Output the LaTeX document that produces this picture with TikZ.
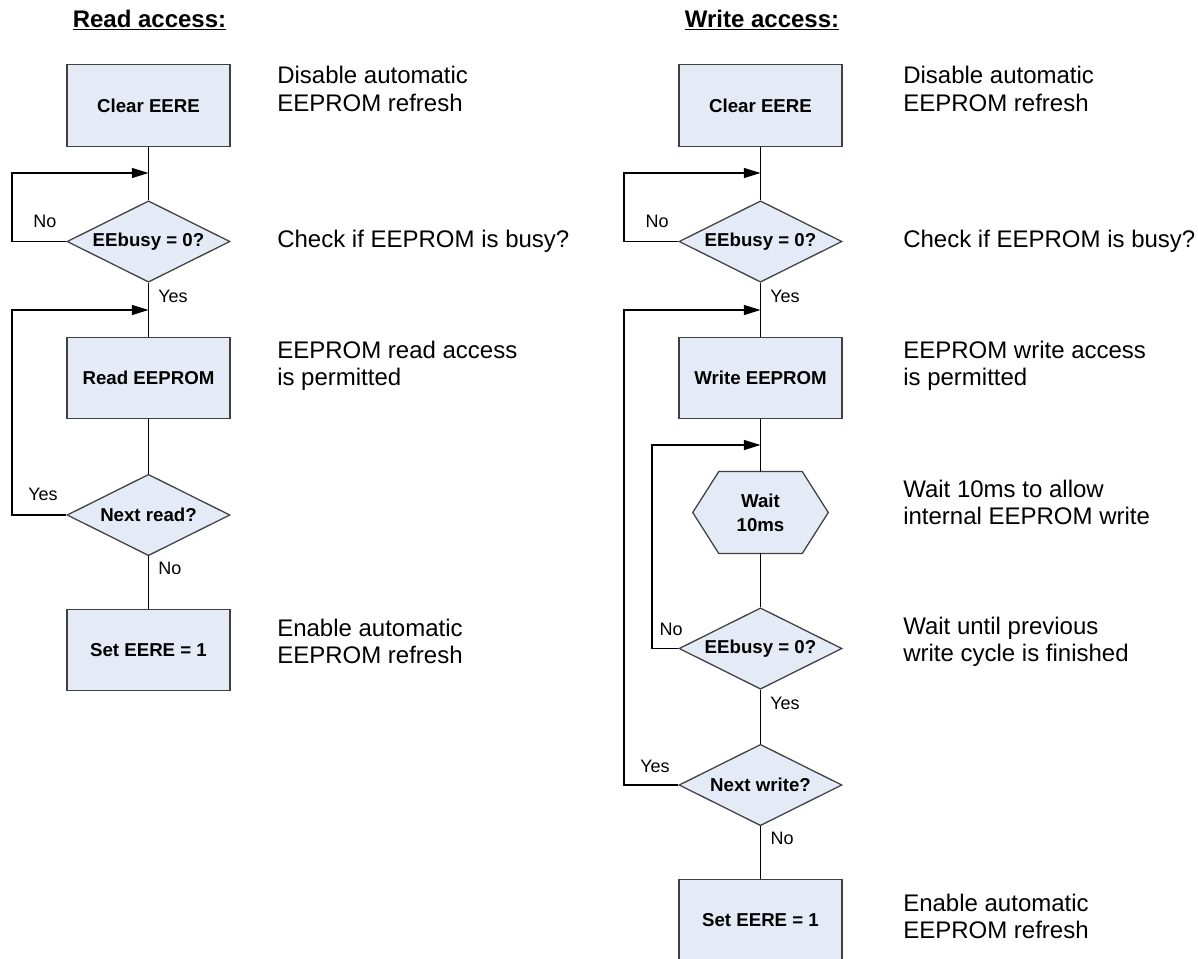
\documentclass[tikz,border=0pt]{standalone}
\usepackage{fontspec}
\setmainfont{Liberation Sans}
\usetikzlibrary{shapes.geometric,arrows.meta,backgrounds,calc}
\definecolor{boxfill}{HTML}{E5EBF6}
\definecolor{boxline}{HTML}{404040}
\tikzset{
  x=0.75pt, y=-0.75pt,
  flowline/.style={line width=0.95pt, black},
  arrowline/.style={flowline, -{Triangle[length=12.5pt,width=7.5pt]}},
  procbox/.style={rectangle, draw=boxline, fill=boxfill, line width=0.95pt,
    minimum width=122.25pt, minimum height=61pt, inner sep=0pt,
    font=\fontsize{14}{17}\selectfont\bfseries, align=center},
  decbox/.style={diamond, draw=boxline, fill=boxfill, line width=0.95pt,
    minimum width=122.25pt, minimum height=61pt, inner sep=0pt, shape aspect=2,
    font=\fontsize{14}{17}\selectfont\bfseries, align=center},
  hexbox/.style={rectangle, draw=none, minimum width=62.25pt, minimum height=61pt,
    inner sep=0pt, font=\fontsize{14}{18}\selectfont\bfseries, align=center},
  lbl/.style={font=\fontsize{13.5}{16}\selectfont, inner sep=0pt},
  note/.style={anchor=west, inner sep=0pt, align=left,
    font=\fontsize{18}{20.5}\selectfont},
  ttl/.style={font=\fontsize{18}{21}\selectfont\bfseries, inner sep=0pt}
}
\begin{document}
\begin{tikzpicture}
\useasboundingbox (0,0) rectangle (1198,958);

% ---------------- Read access ----------------
\node[ttl] (t1) at (149.5,20) {\underline{Read access:}};
\node[procbox] (c1) at (148.5,105.5) {Clear EERE};
\coordinate (a1) at (148.5,173);
\node[decbox] (d1) at (148.5,241.5) {EEbusy = 0?};
\coordinate (a2) at (148.5,310);
\node[procbox] (r1) at (148.5,378) {Read EEPROM};
\node[decbox] (d2) at (148.5,515) {Next read?};
\node[procbox] (s1) at (148.5,650) {Set EERE = 1};

\draw[flowline] (c1.south) -- (d1.north);
\draw[flowline] (d1.south) -- (r1.north);
\draw[flowline] (r1.south) -- (d2.north);
\draw[flowline] (d2.south) -- (s1.north);
\draw[arrowline] (d1.west) -- (12,241.5) |- (a1);
\draw[arrowline] (d2.west) -- (12,515) |- (a2);

\node[lbl] (l1) at (45,221) {No};
\node[lbl] (l2) at (173,296) {Yes};
\node[lbl] (l3) at (43,494) {Yes};
\node[lbl] (l4) at (170,568) {No};

\node[note] (n1) at (277,89) {Disable automatic\\EEPROM refresh};
\node[note] (n2) at (277,241) {Check if EEPROM is busy?};
\node[note] (n3) at (277,365.5) {EEPROM read access\\is permitted};
\node[note] (n4) at (277,641.5) {Enable automatic\\EEPROM refresh};

% ---------------- Write access ----------------
\node[ttl] (t2) at (762,20) {\underline{Write access:}};
\node[procbox] (c2) at (760.5,105.5) {Clear EERE};
\coordinate (b1) at (760.5,173);
\node[decbox] (e1) at (760.5,241.5) {EEbusy = 0?};
\coordinate (b2) at (760.5,310);
\node[procbox] (w1) at (760.5,378) {Write EEPROM};
\coordinate (b3) at (760.5,445);
\node[hexbox] (h1) at (760.5,512.5) {Wait\\10ms};
\begin{scope}[on background layer]
\draw[draw=boxline, fill=boxfill, line width=0.95pt]
  (h1.north west) -- (h1.north east) -- ($(h1.east)+(26,0)$) --
  (h1.south east) -- (h1.south west) -- ($(h1.west)+(-26,0)$) -- cycle;
\end{scope}
\node[decbox] (e2) at (760.5,648.5) {EEbusy = 0?};
\node[decbox] (e3) at (760.5,785) {Next write?};
\node[procbox] (s2) at (760.5,920.5) {Set EERE = 1};

\draw[flowline] (c2.south) -- (e1.north);
\draw[flowline] (e1.south) -- (w1.north);
\draw[flowline] (w1.south) -- (h1.north);
\draw[flowline] (h1.south) -- (e2.north);
\draw[flowline] (e2.south) -- (e3.north);
\draw[flowline] (e3.south) -- (s2.north);
\draw[arrowline] (e1.west) -- (624,241.5) |- (b1);
\draw[arrowline] (e3.west) -- (624,785) |- (b2);
\draw[arrowline] (e2.west) -- (652,648.5) |- (b3);

\node[lbl] (m1) at (657,221) {No};
\node[lbl] (m2) at (785,296) {Yes};
\node[lbl] (m3) at (671,629) {No};
\node[lbl] (m4) at (785,703) {Yes};
\node[lbl] (m5) at (655,766) {Yes};
\node[lbl] (m6) at (782,838) {No};

\node[note] (p1) at (903,89) {Disable automatic\\EEPROM refresh};
\node[note] (p2) at (903,241) {Check if EEPROM is busy?};
\node[note] (p3) at (903,365.5) {EEPROM write access\\is permitted};
\node[note] (p4) at (903,502.5) {Wait 10ms to allow\\internal EEPROM write};
\node[note] (p5) at (903,641.5) {Wait until previous\\write cycle is finished};
\node[note] (p6) at (903,916.5) {Enable automatic\\EEPROM refresh};
\end{tikzpicture}
\end{document}
